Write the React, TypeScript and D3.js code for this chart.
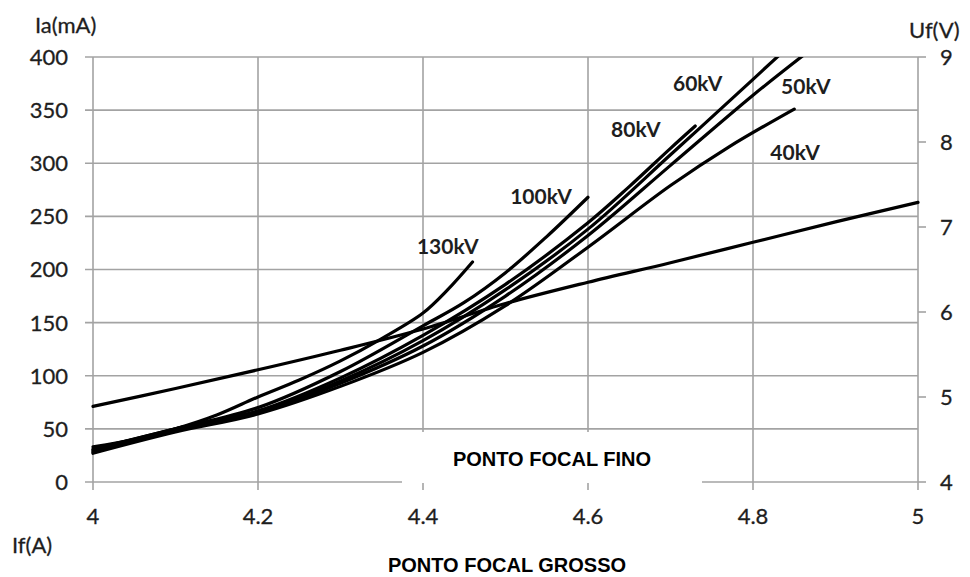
import React from "react";
import * as d3 from "d3";

// ---- data ----
const xTicks = [4, 4.2, 4.4, 4.6, 4.8, 5];
const yTicksLeft = [0, 50, 100, 150, 200, 250, 300, 350, 400];
const yTicksRight = [4, 5, 6, 7, 8, 9];

const kv130: [number, number][] = [[4.0, 33], [4.05, 40], [4.1, 50], [4.15, 63], [4.2, 80], [4.25, 96], [4.3, 114], [4.35, 135], [4.4, 159], [4.43, 181], [4.46, 207]];
const kv100: [number, number][] = [[4.0, 31], [4.1, 50], [4.2, 70], [4.3, 104], [4.4, 147], [4.45, 169], [4.5, 197], [4.55, 231], [4.6, 268]];
const kv80: [number, number][] = [[4.0, 30], [4.1, 50], [4.2, 67], [4.3, 98], [4.4, 138], [4.5, 186], [4.6, 244], [4.65, 278], [4.7, 314], [4.73, 335]];
const kv60: [number, number][] = [[4.0, 29], [4.1, 49], [4.2, 66], [4.3, 95], [4.4, 133], [4.5, 181], [4.6, 238], [4.7, 308], [4.8, 379], [4.835, 404]];
const kv50: [number, number][] = [[4.0, 28], [4.1, 48], [4.2, 65], [4.3, 93], [4.4, 128], [4.5, 175], [4.6, 232], [4.7, 298], [4.8, 364], [4.865, 404]];
const kv40: [number, number][] = [[4.0, 27], [4.1, 47], [4.2, 64], [4.3, 90], [4.4, 122], [4.5, 166], [4.6, 221], [4.7, 279], [4.77, 315], [4.85, 351]];
const ufLine: [number, number][] = [[4.0, 4.89], [4.1, 5.1], [4.2, 5.32], [4.3, 5.55], [4.4, 5.8], [4.5, 6.1], [4.6, 6.35], [4.7, 6.58], [4.8, 6.82], [4.9, 7.06], [5.0, 7.29]];

const seriesNames = ["130kV", "100kV", "80kV", "60kV", "50kV", "40kV"];
const seriesData = [kv130, kv100, kv80, kv60, kv50, kv40];
const labelAnchors: [number, number][] = [[4.43, 214.6], [4.543, 261.6], [4.658, 324.7], [4.733, 368], [4.864, 365], [4.851, 303]];

export default function App() {
  const W = 970, H = 577;
  const x = d3.scaleLinear().domain([4, 5]).range([93, 918]);
  const y = d3.scaleLinear().domain([0, 400]).range([482, 57]);
  const yR = d3.scaleLinear().domain([4, 9]).range([482, 57]);

  const line = d3.line<[number, number]>().x(d => x(d[0])).y(d => y(d[1])).curve(d3.curveCatmullRom.alpha(0.5));
  const lineR = d3.line<[number, number]>().x(d => x(d[0])).y(d => yR(d[1])).curve(d3.curveCatmullRom.alpha(0.5));

  const grid = "#a3a3a3";
  const tickFont = "Lato, 'Open Sans', sans-serif";
  const txt = "#1e1e1e";

  return (
    <svg width={W} height={H} style={{ position: "absolute", left: 0, top: 0, background: "#fff" }}>
      <defs>
        <clipPath id="plot">
          <rect x={x(4) - 2} y={y(400)} width={x(5) - x(4) + 4} height={y(0) - y(400) + 2} />
        </clipPath>
      </defs>
      <rect x={0} y={0} width={W} height={H} fill="#fff" />
      {/* horizontal gridlines */}
      {yTicksLeft.map(t => (
        <line key={"h" + t} x1={85} x2={x(5)} y1={y(t)} y2={y(t)} stroke={grid} strokeWidth={1.6} />
      ))}
      {/* vertical gridlines */}
      {xTicks.map(t => (
        <line key={"v" + t} x1={x(t)} x2={x(t)} y1={y(400)} y2={490} stroke={grid} strokeWidth={1.6} />
      ))}
      {/* right axis ticks */}
      {yTicksRight.map(t => (
        <line key={"r" + t} x1={x(5)} x2={926} y1={yR(t)} y2={yR(t)} stroke={grid} strokeWidth={1.6} />
      ))}
      {/* white box behind inner label */}
      <rect x={402} y={432} width={300} height={51} fill="#fff" />

      {/* curves */}
      <g clipPath="url(#plot)" fill="none" stroke="#000" strokeWidth={3.2} strokeLinecap="round">
        <path d={lineR(ufLine) || ""} />
        {seriesData.map((s, i) => (
          <path key={seriesNames[i]} d={line(s) || ""} />
        ))}
      </g>

      {/* series labels */}
      {seriesNames.map((n, i) => (
        <text key={"l" + n} x={x(labelAnchors[i][0])} y={y(labelAnchors[i][1])} textAnchor="middle"
          fontFamily={tickFont} fontWeight={700} fontSize={21} fill={txt}>{n}</text>
      ))}

      {/* left tick labels */}
      {yTicksLeft.map(t => (
        <text key={"yl" + t} x={68} y={y(t)} dy="0.36em" textAnchor="end" fontFamily={tickFont} fontSize={22} fill={txt} stroke={txt} strokeWidth={0.3}>{t}</text>
      ))}
      {/* right tick labels */}
      {yTicksRight.map(t => (
        <text key={"yr" + t} x={940} y={yR(t)} dy="0.36em" textAnchor="start" fontFamily={tickFont} fontSize={22} fill={txt} stroke={txt} strokeWidth={0.3}>{t}</text>
      ))}
      {/* x tick labels */}
      {xTicks.map(t => (
        <text key={"xt" + t} x={x(t)} y={524} textAnchor="middle" fontFamily={tickFont} fontSize={22} fill={txt} stroke={txt} strokeWidth={0.3}>{String(t)}</text>
      ))}

      {/* axis titles */}
      <text x={35} y={33} fontFamily={tickFont} fontSize={22} fill={txt} stroke={txt} strokeWidth={0.3}>Ia(mA)</text>
      <text x={909} y={38} fontFamily={tickFont} fontSize={22} fill={txt} stroke={txt} strokeWidth={0.3}>Uf(V)</text>
      <text x={12} y={553} fontFamily={tickFont} fontSize={22} fill={txt} stroke={txt} strokeWidth={0.3}>If(A)</text>

      <text x={552} y={466} textAnchor="middle" fontFamily="'Liberation Sans', Arial, sans-serif" fontWeight={700} fontSize={20} fill="#000">PONTO FOCAL FINO</text>
      <text x={507} y={572} textAnchor="middle" fontFamily="'Liberation Sans', Arial, sans-serif" fontWeight={700} fontSize={20} fill="#000">PONTO FOCAL GROSSO</text>
    </svg>
  );
}
